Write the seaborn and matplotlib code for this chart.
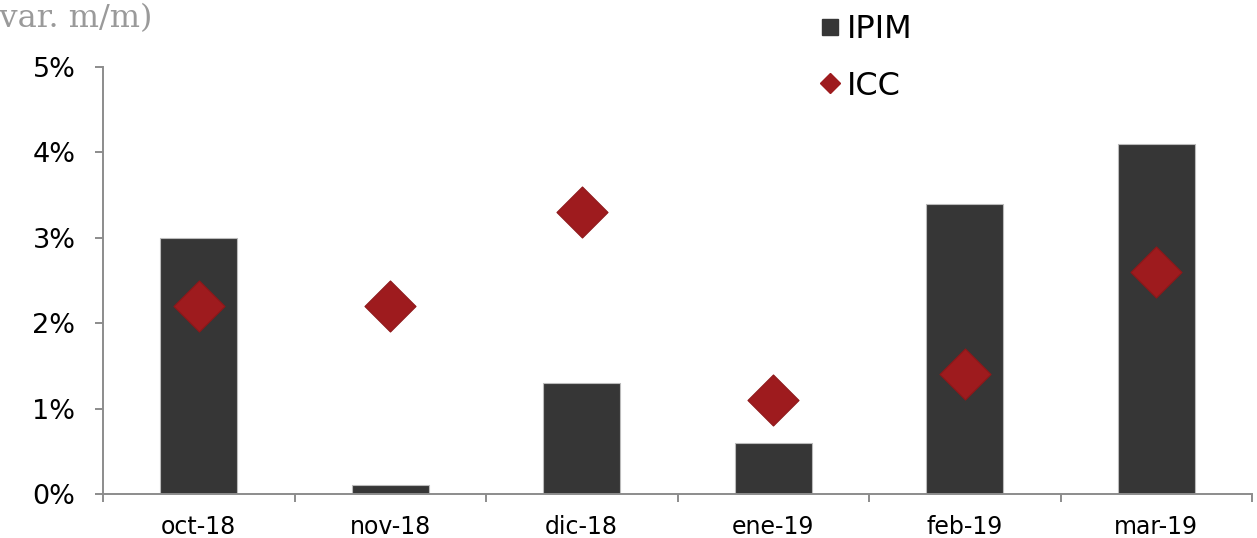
import matplotlib
matplotlib.use("Agg")
import matplotlib.pyplot as plt
import seaborn as sns
import pandas as pd
import numpy as np
from matplotlib.ticker import FixedLocator, FuncFormatter
from matplotlib.lines import Line2D

months = ["oct-18", "nov-18", "dic-18", "ene-19", "feb-19", "mar-19"]
ipim = [3.0, 0.1, 1.3, 0.6, 3.4, 4.1]
icc = [2.2, 2.2, 3.3, 1.1, 1.4, 2.6]
yticks = [0, 1, 2, 3, 4, 5]

bar_color = "#363636"
dia_color = "#9E1B1E"
axis_grey = "#8C8C8C"

sns.set_theme(style="white")
plt.rcParams["font.family"] = ["DejaVu Sans"]

df = pd.DataFrame({"month": months, "IPIM": ipim, "ICC": icc})

fig = plt.figure(figsize=(12.57, 5.38), dpi=100)
ax = fig.add_axes([103 / 1257, 1 - 494 / 538, (1252 - 103) / 1257, (494 - 67) / 538])

sns.barplot(data=df, x="month", y="IPIM", color=bar_color, saturation=1,
            width=0.4, edgecolor="#BBBBBB", linewidth=0.8, ax=ax, zorder=2)
sns.scatterplot(data=df, x="month", y="ICC", marker="D", s=26 ** 2,
                color=dia_color, edgecolor="#8E1719", linewidth=0.8, ax=ax, zorder=3)

ax.set_xlim(-0.5, 5.5)
ax.set_ylim(0, 5)
ax.set_xlabel("")
ax.set_ylabel("")

ax.yaxis.set_major_locator(FixedLocator(yticks))
ax.yaxis.set_major_formatter(FuncFormatter(lambda v, p: f"{v:.0f}%"))
ax.tick_params(axis="y", which="major", direction="out", length=5.8, width=1.4,
               color=axis_grey, labelsize=19.5, labelcolor="black", pad=14, left=True)

ax.set_xticks(range(len(months)))
ax.set_xticklabels(months)
ax.set_xticks(np.arange(-0.5, 6, 1), minor=True)
ax.tick_params(axis="x", which="major", length=0, labelsize=17, labelcolor="black", pad=15)
ax.tick_params(axis="x", which="minor", direction="out", length=5.8, width=1.4,
               color=axis_grey, bottom=True)

for s in ["top", "right"]:
    ax.spines[s].set_visible(False)
for s in ["left", "bottom"]:
    ax.spines[s].set_color(axis_grey)
    ax.spines[s].set_linewidth(1.4)

handles = [
    Line2D([], [], marker="s", linestyle="none", markersize=12.2, color=bar_color),
    Line2D([], [], marker="D", linestyle="none", markersize=9.7, color=dia_color),
]
fig.legend(handles, ["IPIM", "ICC"], loc="upper left", bbox_to_anchor=(807.6 / 1257, 1 - 1 / 538),
           frameon=False, fontsize=23, handlelength=0.6, handletextpad=0.24,
           labelspacing=0.81, borderaxespad=0, labelcolor="black")

fig.text(152 / 1257, 1 - 19 / 538, "(var. m/m)", ha="right", va="center",
         fontsize=23, color="#9A9A9A", family=["DejaVu Serif"])

fig.savefig("out.png", dpi=100)
